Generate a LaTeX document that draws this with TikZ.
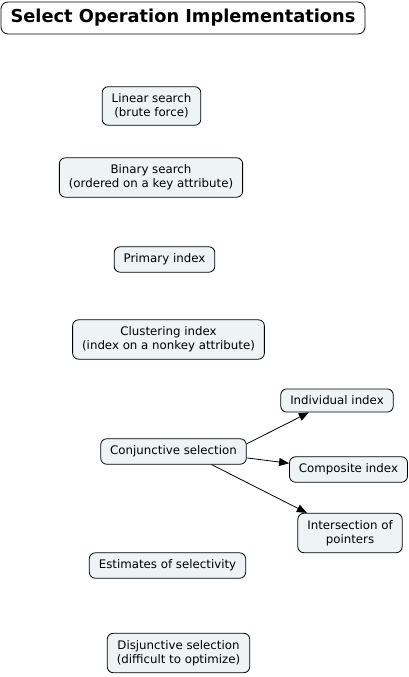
\documentclass[tikz,border=0pt]{standalone}
\usepackage{fontspec}
\setmainfont{DejaVu Sans}
\usetikzlibrary{arrows.meta}
\definecolor{boxfill}{HTML}{EEF3F6}
\begin{document}
\begin{tikzpicture}[x=1pt,y=-1pt,
    concept/.style={draw,line width=0.8pt,rounded corners=6pt,fill=boxfill,align=center,
      font=\fontsize{11.8}{14}\selectfont,inner xsep=9.5pt,inner ysep=7pt},
    link/.style={line width=0.8pt,-{Triangle[length=10pt,width=8pt]}}]
    \useasboundingbox (0,0) rectangle (409,677);
    \node[draw,line width=0.8pt,rounded corners=7pt,fill=white,font=\fontsize{17.8}{20}\bfseries,
      minimum width=364pt,minimum height=32pt] (title) at (183,18) {Select Operation Implementations};
    \node[concept] (linear) at (151.5,106) {Linear search\\(brute force)};
    \node[concept] (binary) at (151,177.5) {Binary search\\(ordered on a key attribute)};
    \node[concept] (primary) at (164.5,259.5) {Primary index};
    \node[concept] (cluster) at (168.5,339.5) {Clustering index\\(index on a nonkey attribute)};
    \node[concept] (conj) at (173.5,451.5) {Conjunctive selection};
    \node[concept] (indiv) at (337,400.5) {Individual index};
    \node[concept] (comp) at (348.5,469.5) {Composite index};
    \node[concept] (inter) at (350,533) {Intersection of\\pointers};
    \node[concept] (estim) at (167.5,565.5) {Estimates of selectivity};
    \node[concept] (disj) at (178.5,653) {Disjunctive selection\\(difficult to optimize)};
    \draw[link] (conj.6) -- (indiv.203);
    \draw[link] (conj.-5) -- (comp.174);
    \draw[link] (conj.-19) -- (inter.155);
  \end{tikzpicture}
\end{document}
